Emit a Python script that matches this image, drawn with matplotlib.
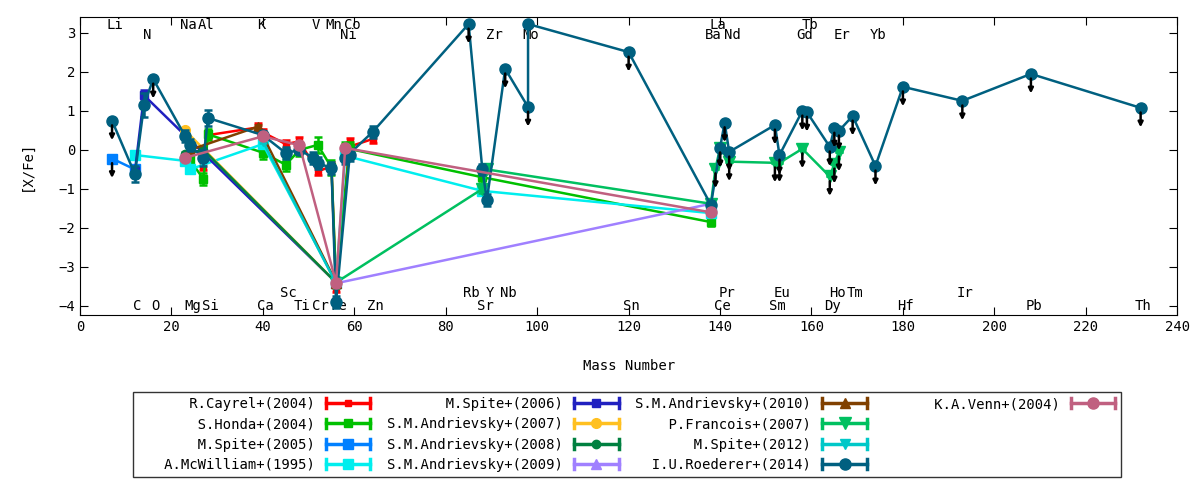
import numpy as np
import matplotlib
matplotlib.use("Agg")
import matplotlib.pyplot as plt
from matplotlib.lines import Line2D
from matplotlib.patches import Rectangle
from matplotlib.legend_handler import HandlerBase

plt.rcParams['font.family'] = ['DejaVu Sans Mono']
plt.rcParams['font.size'] = 10

# mass number used for each element
mass = {
    'Li': 7, 'C': 12, 'N': 14, 'O': 16, 'Na': 23, 'Mg': 24, 'Al': 27, 'Si': 28,
    'K': 39, 'Ca': 40, 'Sc': 45, 'Ti': 48, 'V': 51, 'Cr': 52, 'Mn': 55, 'Fe': 56,
    'Co': 59, 'Ni': 58, 'Zn': 64, 'Rb': 85, 'Sr': 88, 'Y': 89, 'Zr': 90, 'Nb': 93,
    'Mo': 98, 'Sn': 120, 'Ba': 138, 'La': 139, 'Ce': 140, 'Pr': 141, 'Nd': 142,
    'Sm': 152, 'Eu': 153, 'Gd': 158, 'Tb': 159, 'Dy': 164, 'Ho': 165, 'Er': 166,
    'Tm': 169, 'Yb': 174, 'Hf': 180, 'Ir': 193, 'Pb': 208, 'Th': 232,
}

# element labels (rows at top and bottom of the plot)
top_row1 = ['Li', 'Na', 'Al', 'K', 'V', 'Mn', 'Co', 'La', 'Tb']
top_row2 = ['N', 'Ni', 'Zr', 'Mo', 'Ba', 'Nd', 'Gd', 'Er', 'Yb']
bot_row1 = ['Sc', 'Rb', 'Y', 'Nb', 'Pr', 'Eu', 'Ho', 'Tm', 'Ir']
bot_row2 = ['C', 'O', 'Mg', 'Si', 'Ca', 'Ti', 'Cr', 'Fe', 'Zn', 'Sr', 'Sn',
            'Ce', 'Sm', 'Dy', 'Hf', 'Pb', 'Th']

# --- data: elements, [X/Fe], error, upper limit flag ---
cayrel_el = ['Al', 'Si', 'K', 'Ca', 'Sc', 'Ti', 'Cr', 'Mn', 'Fe', 'Co', 'Ni', 'Zn']
cayrel_v = [-0.42, 0.38, 0.58, 0.45, 0.15, 0.22, -0.55, -0.42, -3.55, 0.2, 0.05, 0.28]
cayrel_e = [0.1, 0.1, 0.1, 0.1, 0.1, 0.1, 0.1, 0.1, 0.1, 0.1, 0.1, 0.1]

honda_el = ['Mg', 'Al', 'Si', 'Ca', 'Sc', 'Ti', 'Cr', 'Mn', 'Fe', 'Co', 'Ni', 'Sr', 'Ba']
honda_v = [-0.25, -0.75, 0.4, -0.07, -0.38, 0.0, 0.13, -0.45, -3.4, 0.05, 0.05, -0.7, -1.85]
honda_e = [0.15, 0.15, 0.15, 0.15, 0.15, 0.15, 0.2, 0.2, 0.15, 0.15, 0.15, 0.15, 0.1]

spite05_el = ['Li', 'C']
spite05_v = [-0.22, -0.5]
spite05_e = [0.0, 0.1]
spite05_lim = [1, 0]

mcw_el = ['C', 'Na', 'Mg', 'Ca', 'Fe', 'Ni', 'Sr', 'Ba']
mcw_v = [-0.13, -0.28, -0.5, 0.15, -3.4, -0.15, -1.05, -1.62]
mcw_e = [0.1, 0.1, 0.1, 0.1, 0.1, 0.1, 0.1, 0.1]

spite06_el = ['C', 'N', 'Fe']
spite06_v = [-0.55, 1.4, -3.4]
spite06_e = [0.1, 0.15, 0.1]

and07_el = ['Na', 'Fe']
and07_v = [0.5, -3.4]
and07_e = [0.05, 0.05]

and08_el = ['Na', 'Al', 'Fe']
and08_v = [-0.1, 0.0, -3.4]
and08_e = [0.05, 0.05, 0.05]

and09_el = ['Fe', 'Ba']
and09_v = [-3.42, -1.38]
and09_e = [0.05, 0.05]

and10_el = ['Mg', 'K', 'Fe']
and10_v = [0.0, 0.6, -3.4]
and10_e = [0.05, 0.05, 0.05]

franc_el = ['Fe', 'Sr', 'Y', 'Ba', 'La', 'Ce', 'Nd', 'Sm', 'Eu', 'Gd', 'Dy', 'Ho', 'Er']
franc_v = [-3.4, -1.0, -0.5, -1.38, -0.48, 0.05, -0.3, -0.33, -0.33, 0.03, -0.68, -0.36, -0.05]
franc_e = [0.05, 0.1, 0.1, 0.1, 0.0, 0.0, 0.0, 0.0, 0.0, 0.0, 0.0, 0.0, 0.0]
franc_lim = [0, 0, 0, 0, 1, 1, 1, 1, 1, 1, 1, 1, 1]

spite12_el = ['Ca', 'Fe']
spite12_v = [0.22, -3.42]
spite12_e = [0.05, 0.05]

roed_el = ['Li', 'C', 'N', 'O', 'Na', 'Mg', 'Al', 'Si', 'Ca', 'Sc', 'Ti', 'V', 'Cr',
           'Mn', 'Fe', 'Co', 'Ni', 'Zn', 'Rb', 'Sr', 'Y', 'Nb', 'Mo', 'Mo', 'Sn', 'Ba',
           'Ce', 'Pr', 'Nd', 'Sm', 'Eu', 'Gd', 'Tb', 'Dy', 'Ho', 'Er', 'Tm', 'Yb',
           'Hf', 'Ir', 'Pb', 'Th']
roed_v = [0.75, -0.62, 1.15, 1.82, 0.35, 0.12, -0.2, 0.82, 0.38, -0.08, 0.0, -0.2, -0.33,
          -0.47, -3.9, -0.13, -0.2, 0.46, 3.23, -0.5, -1.28, 2.08, 1.1, 3.23, 2.51, -1.41,
          0.05, 0.7, -0.05, 0.64, -0.13, 1.0, 0.97, 0.08, 0.56, 0.49, 0.87, -0.41,
          1.62, 1.26, 1.95, 1.08]
roed_e = [0.0, 0.2, 0.3, 0.0, 0.15, 0.15, 0.2, 0.2, 0.1, 0.15, 0.1, 0.15, 0.15,
          0.15, 0.15, 0.15, 0.15, 0.15, 0.0, 0.15, 0.15, 0.0, 0.0, 0.0, 0.0, 0.1,
          0.0, 0.0, 0.0, 0.0, 0.0, 0.0, 0.0, 0.0, 0.0, 0.0, 0.0, 0.0,
          0.0, 0.0, 0.0, 0.0]
roed_lim = [1, 0, 0, 1, 0, 0, 0, 0, 0, 0, 0, 0, 0,
            0, 0, 0, 0, 0, 1, 0, 0, 1, 1, 0, 1, 0,
            1, 1, 1, 1, 1, 1, 1, 1, 1, 1, 1, 1,
            1, 1, 1, 1]

venn_el = ['Na', 'Ca', 'Ti', 'Fe', 'Ni', 'Ba']
venn_v = [-0.2, 0.35, 0.12, -3.4, 0.05, -1.6]
venn_e = [0.05, 0.05, 0.05, 0.05, 0.05, 0.05]

series = [
    ('R.Cayrel+(2004)', cayrel_el, cayrel_v, cayrel_e, None, '#ff0000', 's', 5),
    ('S.Honda+(2004)', honda_el, honda_v, honda_e, None, '#00c000', 's', 6),
    ('M.Spite+(2005)', spite05_el, spite05_v, spite05_e, spite05_lim, '#0080ff', 's', 7),
    ('A.McWilliam+(1995)', mcw_el, mcw_v, mcw_e, None, '#00eeee', 's', 7),
    ('M.Spite+(2006)', spite06_el, spite06_v, spite06_e, None, '#2020c0', 's', 6),
    ('S.M.Andrievsky+(2007)', and07_el, and07_v, and07_e, None, '#ffc020', 'o', 7),
    ('S.M.Andrievsky+(2008)', and08_el, and08_v, and08_e, None, '#008040', 'o', 6),
    ('S.M.Andrievsky+(2009)', and09_el, and09_v, and09_e, None, '#a080ff', '^', 7),
    ('S.M.Andrievsky+(2010)', and10_el, and10_v, and10_e, None, '#804000', '^', 7),
    ('P.Francois+(2007)', franc_el, franc_v, franc_e, franc_lim, '#00c060', 'v', 8),
    ('M.Spite+(2012)', spite12_el, spite12_v, spite12_e, None, '#00c8c8', 'v', 7),
    ('I.U.Roederer+(2014)', roed_el, roed_v, roed_e, roed_lim, '#006080', 'o', 8),
    ('K.A.Venn+(2004)', venn_el, venn_v, venn_e, None, '#c06080', 'o', 8),
]


class GnuKey(HandlerBase):
    # gnuplot-like key sample: horizontal bar with caps and point in the middle
    def create_artists(self, legend, orig, xd, yd, w, h, fs, trans):
        y = (h - yd) / 2
        x0, x1 = -xd, w - xd
        c = orig.get_color()
        bar = Line2D([x0, x1], [y, y], color=c, lw=2.5, transform=trans)
        caps = Line2D([x0, x0, np.nan, x1, x1], [y - 3.5, y + 3.5, np.nan, y - 3.5, y + 3.5],
                      color=c, lw=2.5, transform=trans)
        pt = Line2D([(x0 + x1) / 2], [y], ls='', marker=orig.get_marker(),
                    ms=orig.get_markersize(), color=c, transform=trans)
        return [bar, caps, pt]


fig = plt.figure(figsize=(12, 4.8), dpi=100)
ax = fig.add_axes([0.0667, 0.344, 0.9143, 0.6206])

handles = []
labels = []
width = max(len(s[0]) for s in series)
for k, (name, el, v, e, lim, col, mk, ms) in enumerate(series):
    x = [mass[s] for s in el]
    ax.errorbar(x, v, yerr=e, color=col, lw=1.8, marker=mk, ms=ms, mec=col,
                capsize=3, capthick=1.8, elinewidth=1.8, zorder=2 + k * 0.1)
    if lim is not None:
        for xi, vi, li in zip(x, v, lim):
            if li:
                ax.annotate('', xy=(xi, vi - 0.5), xytext=(xi, vi - 0.12),
                            arrowprops=dict(arrowstyle='-|>', color='black', lw=1.8,
                                            mutation_scale=7, shrinkA=0, shrinkB=0),
                            zorder=4)
    handles.append(Line2D([], [], color=col, marker=mk, ms=ms))
    # right-justify key text like gnuplot (monospace font)
    labels.append(name.rjust(width))

# pad the last key column so the entries fill 4 + 4 + 4 + 1
for _ in range(3):
    handles.append(Rectangle((0, 0), 1, 1, alpha=0))
    labels.append('')

for row, yy in [(top_row1, 3.2), (top_row2, 2.95), (bot_row1, -3.67), (bot_row2, -4.0)]:
    for s in row:
        ax.text(mass[s] + 0.6, yy, s, ha='center', va='center', fontsize=10, zorder=1)

ax.set_xlim(0, 240)
ax.set_ylim(-4.23, 3.41)
ax.set_xticks(np.arange(0, 241, 20))
ax.set_yticks(np.arange(-4, 4, 1))
ax.tick_params(direction='in', top=True, right=True, length=6, labelsize=10)
ax.set_xlabel('Mass Number', fontsize=10, labelpad=18)
ax.set_ylabel('[X/Fe]', fontsize=10, labelpad=18)

leg = fig.legend(handles, labels, handler_map={Line2D: GnuKey()}, ncol=4,
                 loc='center', bbox_to_anchor=(0.111, 0.0104, 0.823, 0.169),
                 mode='expand', borderaxespad=0, markerfirst=False, frameon=True,
                 fancybox=False, edgecolor='black', handlelength=3.2,
                 labelspacing=0.45, fontsize=10)
leg.get_frame().set_linewidth(1)

fig.savefig('out.png', dpi=100)
